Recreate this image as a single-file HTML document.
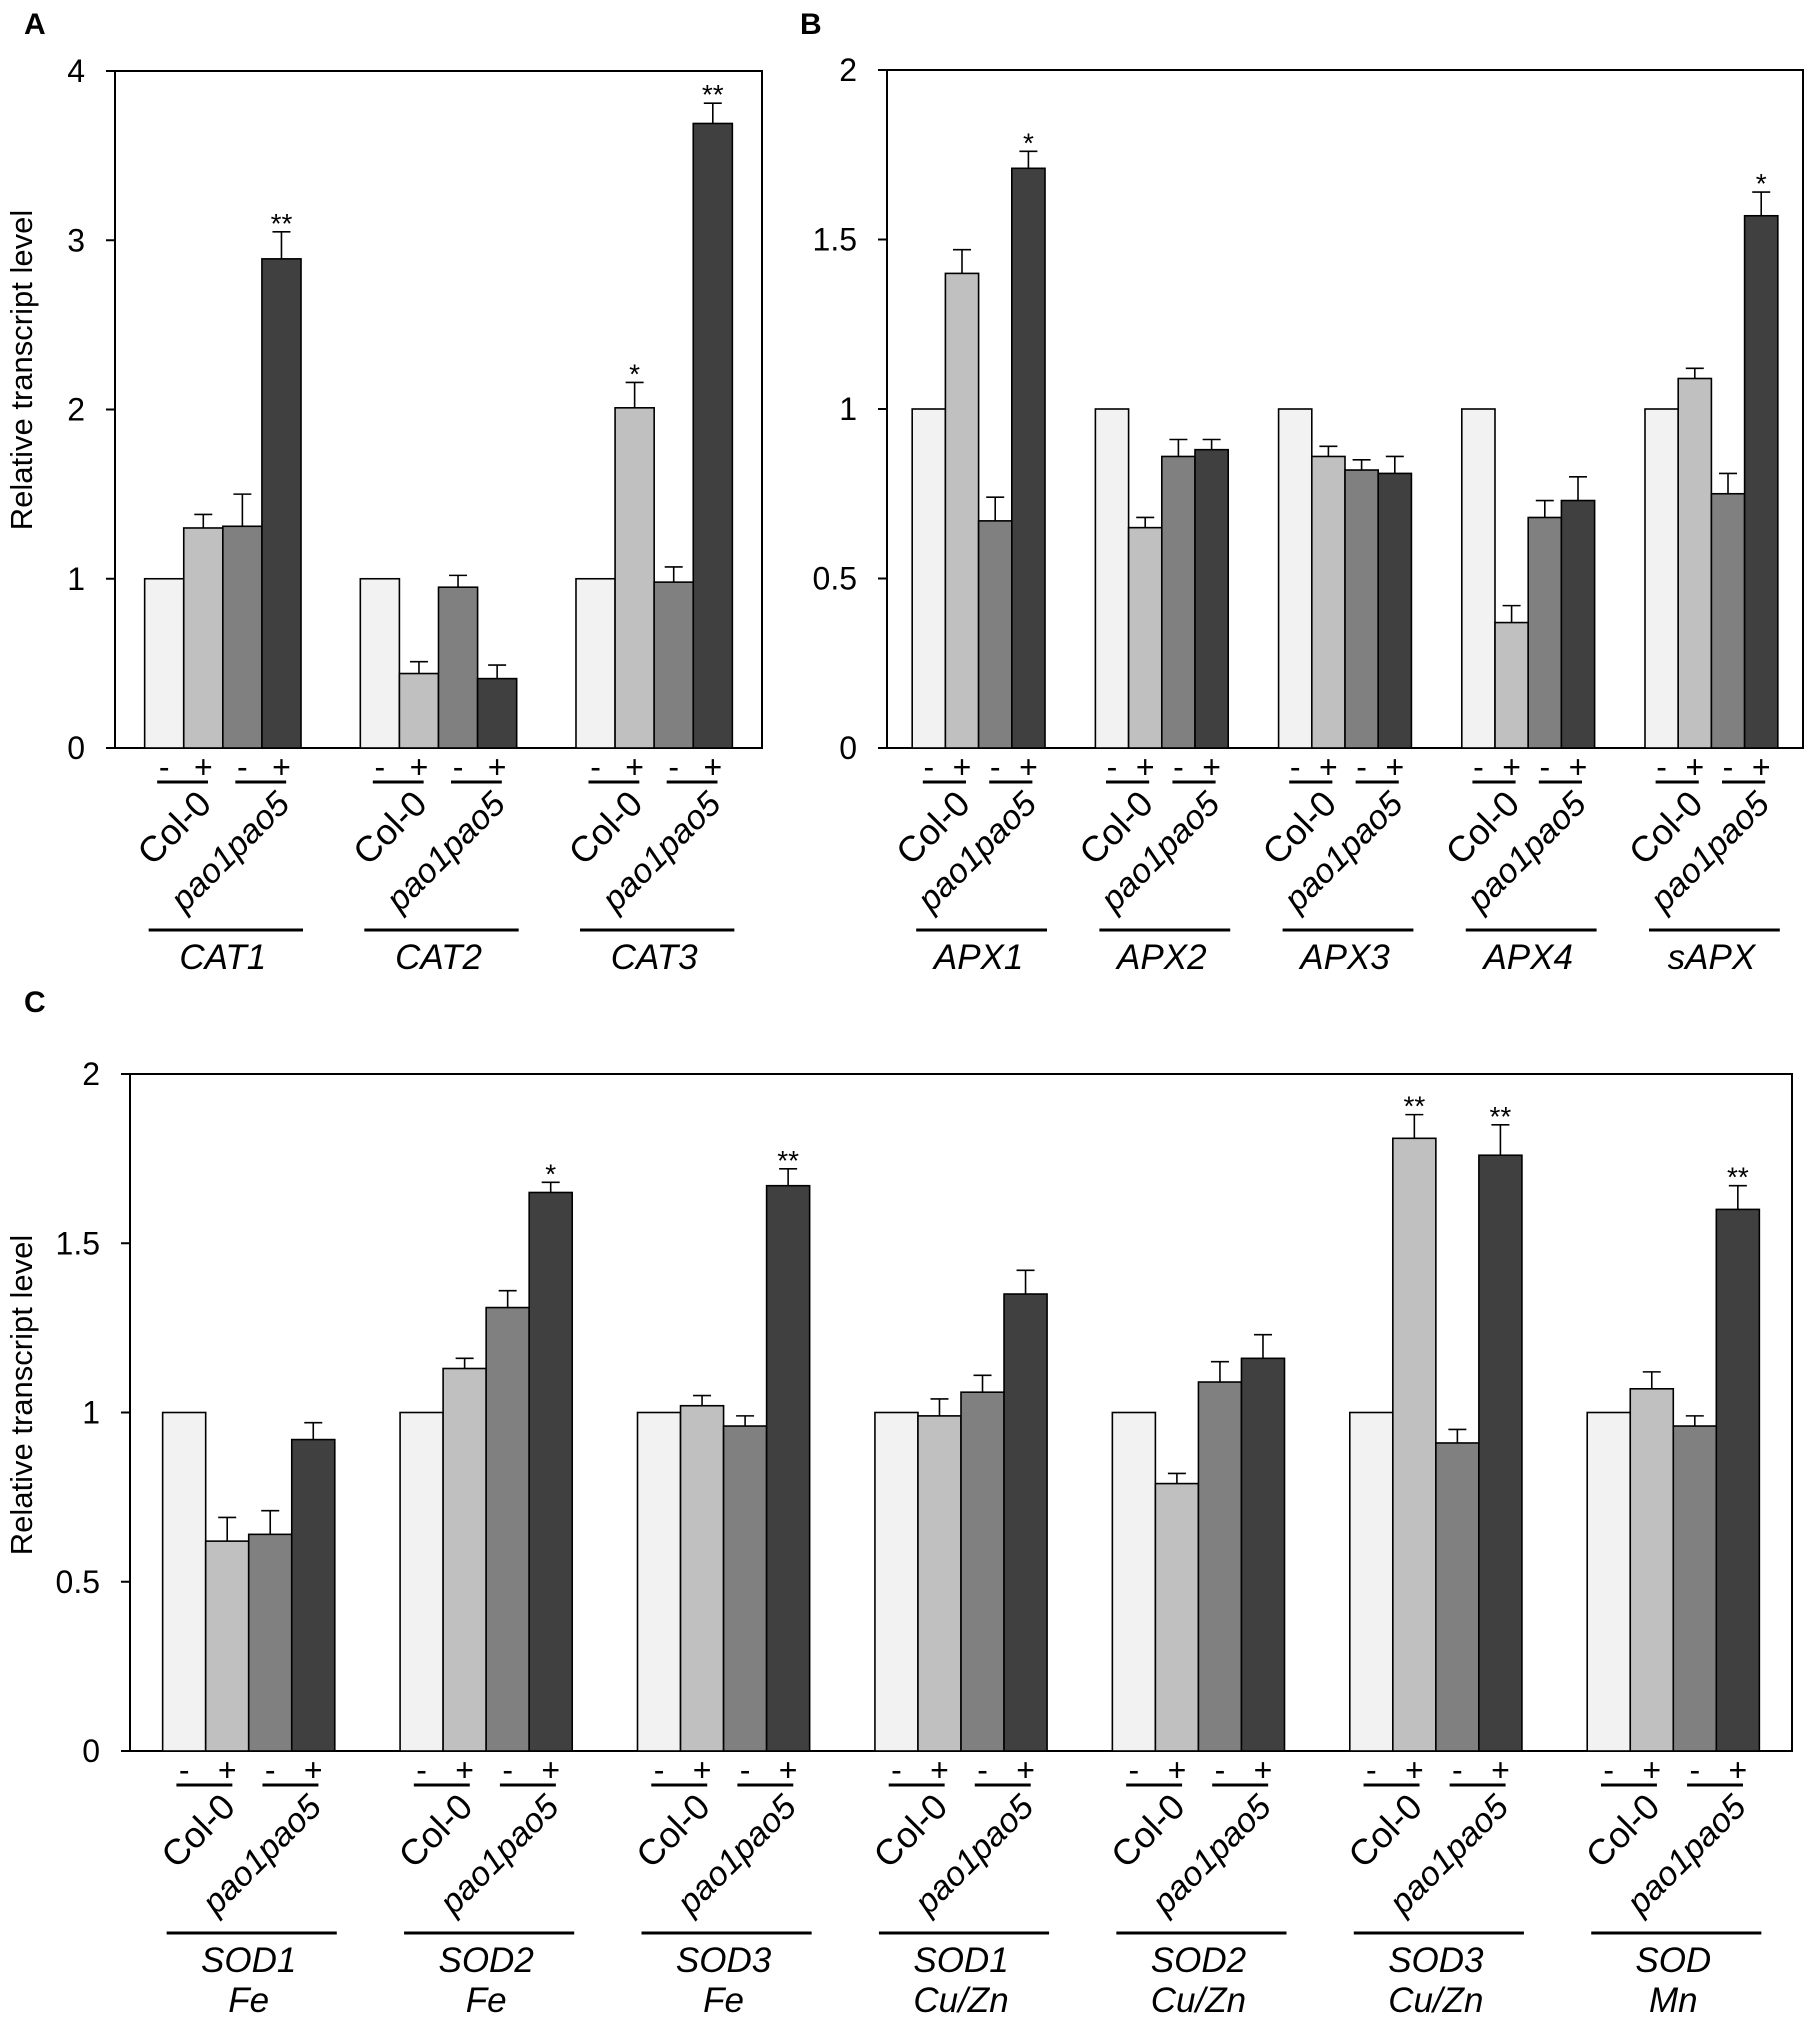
<!DOCTYPE html>
<html><head><meta charset="utf-8"><style>
body{margin:0;background:#fff}
svg{display:block;font-family:"Liberation Sans",Arial,sans-serif}
</style></head><body>
<svg id="fig" width="1810" height="2031" viewBox="0 0 1810 2031" xmlns="http://www.w3.org/2000/svg">
<text x="24" y="34" font-size="30" font-weight="bold">A</text>
<text x="800" y="34" font-size="30" font-weight="bold">B</text>
<text x="24" y="1012" font-size="30" font-weight="bold">C</text>
</svg>
<script>
// Panel A data
const catGenes = [["CAT1"],["CAT2"],["CAT3"]];
const catValues = [[1,1.30,1.31,2.89],[1,0.44,0.95,0.41],[1,2.01,0.98,3.69]];
const catErrors = [[0,0.08,0.19,0.16],[0,0.07,0.07,0.08],[0,0.15,0.09,0.12]];
const catStars = [["","","","**"],["","","",""],["","*","","**"]];
const catTicks = ["0","1","2","3","4"];
// Panel B data
const apxGenes = [["APX1"],["APX2"],["APX3"],["APX4"],["sAPX"]];
const apxValues = [[1,1.40,0.67,1.71],[1,0.65,0.86,0.88],[1,0.86,0.82,0.81],[1,0.37,0.68,0.73],[1,1.09,0.75,1.57]];
const apxErrors = [[0,0.07,0.07,0.05],[0,0.03,0.05,0.03],[0,0.03,0.03,0.05],[0,0.05,0.05,0.07],[0,0.03,0.06,0.07]];
const apxStars = [["","","","*"],["","","",""],["","","",""],["","","",""],["","","","*"]];
const apxTicks = ["0","0.5","1","1.5","2"];
// Panel C data
const sodGenes = [["SOD1","Fe"],["SOD2","Fe"],["SOD3","Fe"],["SOD1","Cu/Zn"],["SOD2","Cu/Zn"],["SOD3","Cu/Zn"],["SOD","Mn"]];
const sodValues = [[1,0.62,0.64,0.92],[1,1.13,1.31,1.65],[1,1.02,0.96,1.67],[1,0.99,1.06,1.35],[1,0.79,1.09,1.16],[1,1.81,0.91,1.76],[1,1.07,0.96,1.60]];
const sodErrors = [[0,0.07,0.07,0.05],[0,0.03,0.05,0.03],[0,0.03,0.03,0.05],[0,0.05,0.05,0.07],[0,0.03,0.06,0.07],[0,0.07,0.04,0.09],[0,0.05,0.03,0.07]];
const sodStars = [["","","",""],["","","","*"],["","","","**"],["","","",""],["","","",""],["","**","","**"],["","","","**"]];
const sodTicks = ["0","0.5","1","1.5","2"];

const fills = ["#f2f2f2","#c0c0c0","#808080","#404040"];
const svg = document.getElementById('fig');
const NS = "http://www.w3.org/2000/svg";
function mk(tag, attrs, parent){
  const e = document.createElementNS(NS, tag);
  for (const k in attrs) e.setAttribute(k, attrs[k]);
  (parent||svg).appendChild(e); return e;
}
function panel(id, L, R, T, B, ymax, genes, vals, errs, stars, ticks, ytitle, titleY){
  const g = mk('g', {});
  
  
  const y = v => B - v / ymax * (B - T);
  const frame = mk('rect', {x:L, y:T, width:R-L, height:B-T, fill:'none', stroke:'#000', 'stroke-width':2}, g);
  
  
  ticks.forEach((t, i) => {
    const v = ymax * i / (ticks.length - 1);
    const tl = mk('line', {x1:L-9, x2:L, y1:y(v), y2:y(v), stroke:'#000', 'stroke-width':2}, g);
    
    
    const tx = mk('text', {x:L-30, y:y(v)+11, 'font-size':32, 'text-anchor':'end'}, g);
    tx.textContent = t;
    
    
  });
  if (ytitle) {
    const yt = mk('text', {x:0, y:0, 'font-size':31, 'text-anchor':'middle', transform:`translate(32,${titleY}) rotate(-90)`}, g);
    yt.textContent = ytitle;
    
    
  }
  const n = genes.length, slot = (R - L) / n, gw = slot * 0.725, bw = gw / 4;
  for (let i = 0; i < n; i++) {
    const gx = L + i * slot + (slot - gw) / 2;
    for (let j = 0; j < 4; j++) {
      const bx = gx + j * bw, v = vals[i][j], e = errs[i][j];
      const r = mk('rect', {x:bx, y:y(v), width:bw, height:B - y(v), fill:fills[j], stroke:'#000', 'stroke-width':1.6}, g);
      
      
      const cx = bx + bw / 2;
      if (e > 0) {
        mk('line', {x1:cx, x2:cx, y1:y(v), y2:y(v+e), stroke:'#000', 'stroke-width':1.6}, g);
        mk('line', {x1:cx-9, x2:cx+9, y1:y(v+e), y2:y(v+e), stroke:'#000', 'stroke-width':1.6}, g);
      }
      if (stars[i][j]) {
        const s = mk('text', {x:cx, y:y(v+e)+1, 'font-size':28, 'text-anchor':'middle'}, g);
        s.textContent = stars[i][j];
        
        
      }
      const sg = mk('text', {x:cx, y:B+30, 'font-size':32, 'text-anchor':'middle'}, g);
      sg.textContent = j % 2 ? '+' : '-';
      
      
    }
    [0, 1].forEach(k => {
      const pc = gx + bw * (2 * k + 1);
      mk('line', {x1:pc-bw*0.68, x2:pc+bw*0.62, y1:B+34, y2:B+34, stroke:'#000', 'stroke-width':3}, g);
      const ax = gx + bw * (2 * k + 1.5);
      const lb = mk('text', {x:0, y:0, 'font-size':k ? 34 : 36, 'text-anchor':'end', 'font-style': k ? 'italic' : 'normal', transform:`translate(${ax+10},${B+58}) rotate(-45)`}, g);
      lb.textContent = k ? 'pao1pao5' : 'Col-0';
      
      
    });
    mk('line', {x1:gx+4, x2:gx+gw+2, y1:B+182, y2:B+182, stroke:'#000', 'stroke-width':3}, g);
    genes[i].forEach((t, k) => {
      const gt = mk('text', {x:gx+gw/2, y:B+221+k*40, 'font-size':35, 'font-style':'italic', 'text-anchor':'middle'}, g);
      gt.textContent = t;
      
      
    });
  }
}
panel('a', 115, 762, 71, 748, 4, catGenes, catValues, catErrors, catStars, catTicks, 'Relative transcript level', 370);
panel('b', 887, 1803, 70, 748, 2, apxGenes, apxValues, apxErrors, apxStars, apxTicks, '', 0);
panel('c', 130, 1792, 1074, 1751, 2, sodGenes, sodValues, sodErrors, sodStars, sodTicks, 'Relative transcript level', 1395);
</script>
</body></html>
